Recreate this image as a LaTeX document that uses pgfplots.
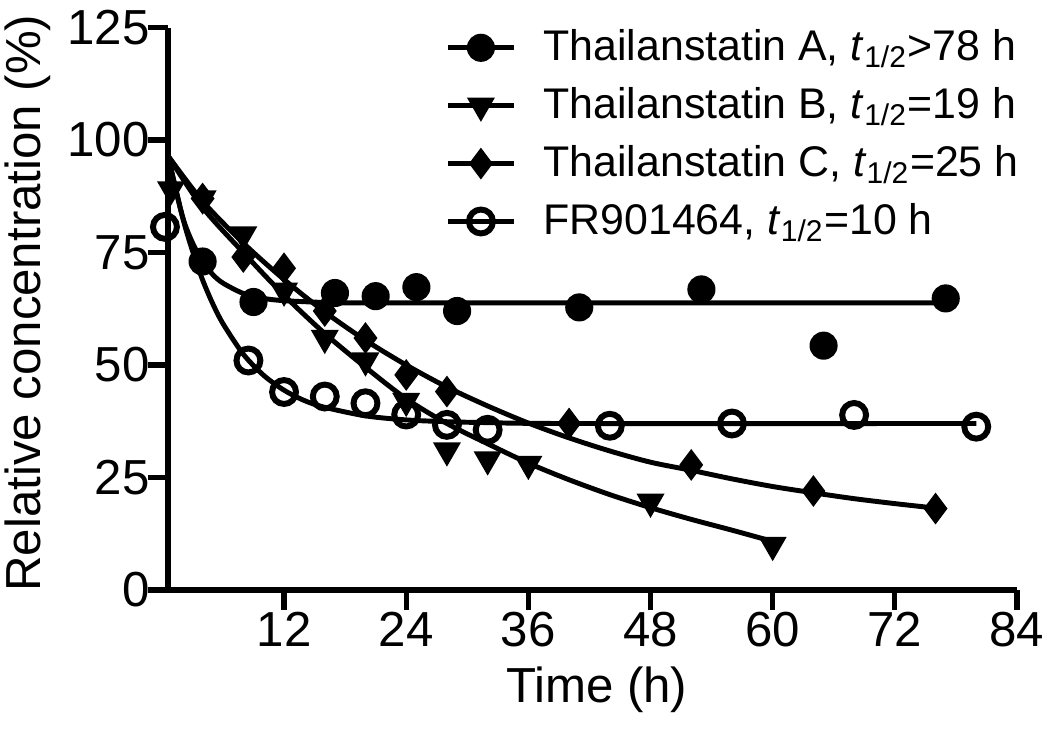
\documentclass[border=0pt]{standalone}
\usepackage{fontspec}
\setmainfont{Liberation Sans}
\usepackage{pgfplots}
\pgfplotsset{compat=1.18}
\begin{document}
\begin{tikzpicture}
\begin{axis}[
    scale only axis,
    width=8.49cm, height=5.625cm,
    xmin=0.6, xmax=84,
    ymin=0, ymax=125,
    axis lines=left,
    axis line style={-, line width=1.5pt},
    xtick={12,24,36,48,60,72,84},
    ytick={0,25,50,75,100,125},
    tick align=outside,
    major tick length=0.2cm,
    tick style={line width=1.5pt, black},
    /pgf/number format/assume math mode=true,
    tick label style={font=\fontsize{14}{15}\selectfont},
    xticklabel style={yshift=3pt},
    yticklabel style={xshift=4pt},
    xlabel={Time (h)},
    ylabel={Relative concentration (\%)},
    label style={font=\fontsize{14}{16}\selectfont},
    xlabel style={at={(axis description cs:0.505,-0.178)}, anchor=center},
    ylabel style={at={(axis description cs:-0.165,0.51)}, anchor=center},
    clip=false,
    legend cell align=left,
    legend style={at={(rel axis cs:1.011,1.01)}, anchor=north east,
        draw=none, fill=none, inner sep=0pt,
        font=\fontsize{12.2}{14}\selectfont, row sep=0.075cm,
        /tikz/every odd column/.append style={column sep=0.2cm}},
    legend image code/.code={
        \draw[line width=1.4pt, black] (0cm,0cm) -- (0.66cm,0cm);
        \draw[mark repeat=2, mark phase=2, #1] plot coordinates {(0cm,0cm) (0.33cm,0cm) (0.66cm,0cm)};
    },
]

% data points
\addplot[only marks, mark=*, mark size=3.8pt, black] coordinates {
    (4,73) (9,64) (17,66) (21,65.3) (25,67.3) (29,62) (41,62.8) (53,66.8) (65,54.3) (77,64.8)
};
\addlegendentry{Thailanstatin A, \textit{t}\textsubscript{1/2}>78 h}

\addplot[only marks, mark=triangle*, mark size=4.2pt, mark options={rotate=180}, black] coordinates {
    (0.9,89) (4,87) (8,79) (12,66.5) (16,56) (20,51) (24,42) (28,31) (32,29) (36,28) (48,19.6) (60,10)
};
\addlegendentry{Thailanstatin B, \textit{t}\textsubscript{1/2}=19 h}

\addplot[only marks, mark=diamond*, mark size=4.2pt, black] coordinates {
    (4,87) (8,74) (12,71.5) (16,62) (20,56) (24,47.8) (28,44.1) (40,37) (52,27.8) (64,22) (76,18.1)
};
\addlegendentry{Thailanstatin C, \textit{t}\textsubscript{1/2}=25 h}

\addplot[only marks, mark=o, mark size=3.4pt, mark options={line width=1.7pt}, black] coordinates {
    (0.3,80.7) (8.5,51) (12,44) (16,43) (20,41.5) (24,39) (28,36.7) (32,35.6) (44,36.5) (56,37) (68,38.9) (80,36.3)
};
\addlegendentry{FR901464, \textit{t}\textsubscript{1/2}=10 h}

% fitted curves
\addplot[line width=1.4pt, smooth, black, forget plot] coordinates {
    (0.6,96.5) (2,83.2) (3,77.2) (4,73.0) (5,70.1) (6,68.2) (8,65.9) (10,64.8) (12,64.3) (16,63.9) (20,63.8) (77,63.8)
};
\addplot[line width=1.4pt, smooth, black, forget plot] coordinates {
    (0.6,96.5) (4,85) (8,75) (12,65.5) (16,57) (20,49.5) (24,42.5) (28,37) (32,32.5) (36,28.2) (40,24.5) (44,21.2) (48,18.3) (52,15.7) (56,13.3) (60,10.8)
};
\addplot[line width=1.4pt, smooth, black, forget plot] coordinates {
    (0.6,96.5) (4,86.4) (8,77.1) (12,69.0) (16,61.8) (20,55.5) (24,50.0) (28,45.1) (32,40.9) (36,37.1) (40,33.8) (44,30.9) (48,28.4) (52,26.6) (56,24.7) (60,23.0) (64,21.6) (68,20.3) (72,19.2) (76,18.2)
};
\addplot[line width=1.4pt, smooth, black, forget plot] coordinates {
    (0.6,96.5) (2,83.1) (3,75.4) (4,68.9) (5,63.6) (6,59.2) (8,52.4) (10,47.7) (12,44.4) (14,42.1) (16,40.6) (20,38.7) (24,37.8) (28,37.4) (32,37.2) (40,37.0) (80,37.0)
};

\end{axis}
\pgfresetboundingbox
\path (current axis.south west) ++(-1.68cm,-1.45cm) rectangle ++(10.5cm,7.35cm);
\end{tikzpicture}
\end{document}
